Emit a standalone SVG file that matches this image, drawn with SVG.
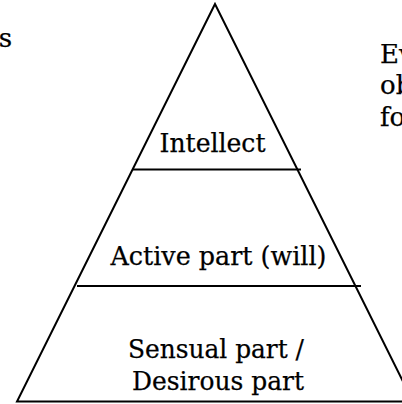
<svg xmlns="http://www.w3.org/2000/svg" width="402" height="404" viewBox="0 0 402 404">
  <style>
    .t { font-family: "DejaVu Serif", "Liberation Serif", serif; font-size: 26px; fill: #000; stroke: #000; stroke-width: 0.25; }
    .ln { stroke: #000; stroke-width: 2; fill: none; }
  </style>
  <rect width="402" height="404" fill="#fff"/>
  <g id="connectors">
    <polygon class="ln" points="215,4 17,401.5 413,401.5" stroke-linejoin="miter"/>
    <line class="ln" x1="133" y1="169.5" x2="301" y2="169.5"/>
    <line class="ln" x1="77" y1="286" x2="361" y2="286"/>
  </g>
  <g id="intellect">
    <text class="t" x="159.5" y="151.5" textLength="106" lengthAdjust="spacingAndGlyphs">Intellect</text>
  </g>
  <g id="active">
    <text class="t" x="110.5" y="265" textLength="216" lengthAdjust="spacingAndGlyphs">Active part (will)</text>
  </g>
  <g id="sensual">
    <text class="t" x="128" y="358" textLength="176" lengthAdjust="spacingAndGlyphs">Sensual part /</text>
    <text class="t" x="132" y="390" textLength="172" lengthAdjust="spacingAndGlyphs">Desirous part</text>
  </g>
  <g id="left-note">
    <text class="t" x="12" y="46.5" text-anchor="end">s</text>
  </g>
  <g id="right-note">
    <text class="t" x="380" y="62.5">Ev</text>
    <text class="t" x="380" y="94">ob</text>
    <text class="t" x="380" y="125.5">fo</text>
  </g>
</svg>
